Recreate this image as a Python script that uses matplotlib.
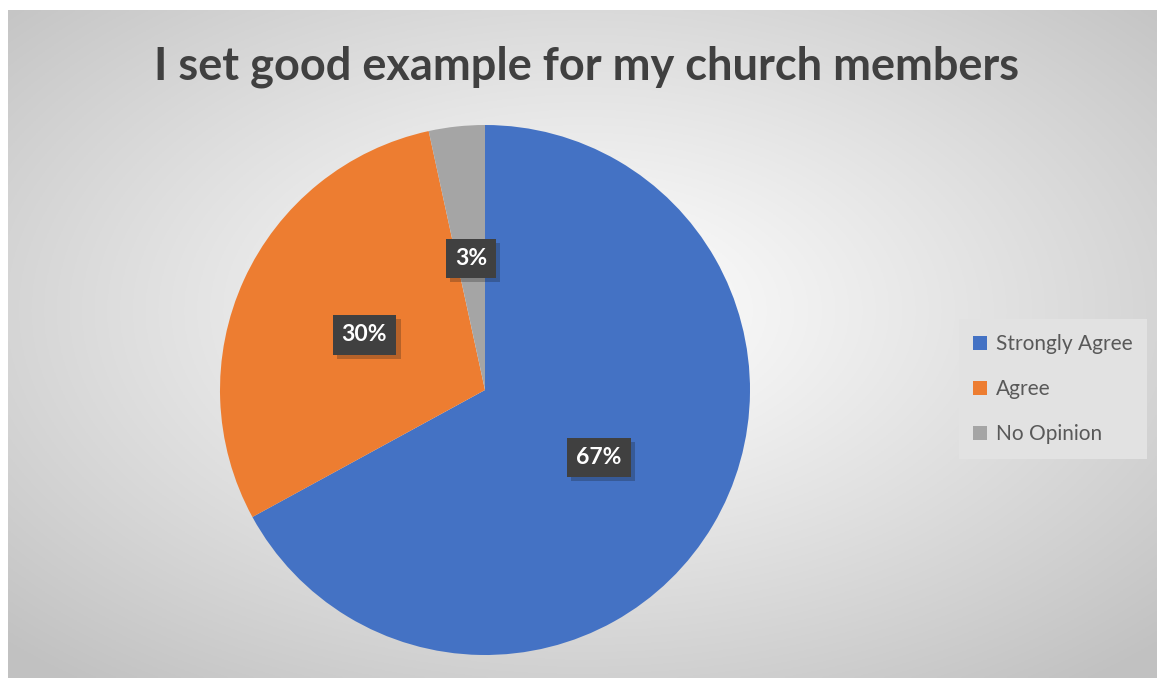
import numpy as np
import matplotlib.pyplot as plt
import matplotlib.patheffects as pe
from matplotlib.patches import Patch

categories = ['Strongly Agree', 'Agree', 'No Opinion']
counts = [59, 26, 3]
colors = ['#4472C4', '#ED7D31', '#A5A5A5']
title = 'I set good example for my church members'

W, H = 1157, 678
fig = plt.figure(figsize=(W / 100, H / 100), dpi=100)
fig.patch.set_facecolor('white')

# radial gradient chart background
bg = fig.add_axes([8 / W, 0, 1 - 8 / W, (H - 10) / H])
yy, xx = np.mgrid[0:1:300j, 0:1:500j]
r = np.sqrt((xx - 0.5) ** 2 + (yy - 0.45) ** 2) / 0.707
shade = 1 - 0.24 * np.clip(r, 0, 1) ** 1.1
bg.imshow(np.dstack([shade] * 3), extent=[0, 1, 0, 1], aspect='auto', origin='upper')
bg.axis('off')

# pie
cx, cy, rad = 485, 390, 265
ax = fig.add_axes([(cx - rad) / W, (H - cy - rad) / H, 2 * rad / W, 2 * rad / H])
wedges, texts, autotexts = ax.pie(counts, colors=colors, startangle=90, counterclock=False,
                                  autopct='%.0f%%', pctdistance=0.5,
                                  wedgeprops=dict(linewidth=0),
                                  textprops=dict(color='white', fontsize=16.5, fontweight='bold',
                                                 family='Lato'))
for t in autotexts:
    t.set_bbox(dict(facecolor='#404040', edgecolor='none', boxstyle='square,pad=0.4'))
    t.get_bbox_patch().set_path_effects([pe.SimplePatchShadow(offset=(3, -3), alpha=0.25),
                                         pe.Normal()])
ax.set_xlim(-1, 1)
ax.set_ylim(-1, 1)
ax.set_aspect('equal')
ax.axis('off')

fig.text(587 / W, 1 - 67 / H, title, ha='center', va='center', fontsize=32.5,
         fontweight='bold', color='#404040', family='Lato')

handles = [Patch(facecolor=c, edgecolor='none') for c in colors]
leg = fig.legend(handles, categories, loc='center', bbox_to_anchor=(1053 / W, 1 - 389 / H),
                 frameon=True, fancybox=False, labelspacing=1.2,
                 handlelength=0.65, handleheight=0.65, handletextpad=0.45,
                 borderpad=0.7, prop=dict(family='Lato', size=15))
leg.get_frame().set_facecolor('#e2e2e2')
leg.get_frame().set_edgecolor('none')
leg.get_frame().set_alpha(1)
for t in leg.get_texts():
    t.set_color('#595959')

plt.savefig('out.png', dpi=100)
